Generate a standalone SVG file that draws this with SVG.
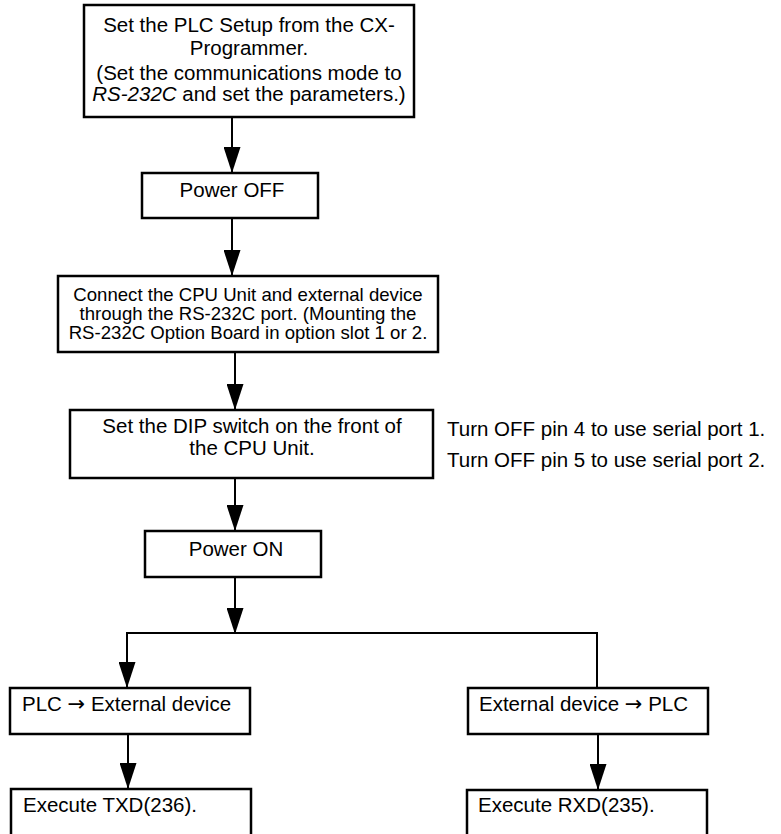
<svg xmlns="http://www.w3.org/2000/svg" width="781" height="834" viewBox="0 0 781 834">
<defs>
<style>
.box{fill:#fff;stroke:#000;stroke-width:2.5}
.t{font-family:"Liberation Sans",Arial,sans-serif;font-size:20.5px;fill:#000}
.s{font-family:"Liberation Sans",Arial,sans-serif;font-size:18.6px;fill:#000}
.c{text-anchor:middle}
.ar{font-family:"DejaVu Sans",sans-serif;font-size:21px}
.ln{stroke:#000;stroke-width:2;fill:none}
</style>
<marker id="ah" viewBox="0 0 26 17" refX="26" refY="8.5" markerWidth="26" markerHeight="17" markerUnits="userSpaceOnUse" orient="auto">
<path d="M0,0 L26,8.5 L0,17 Z" fill="#000"/>
</marker>
</defs>
<rect width="781" height="834" fill="#fff"/>
<g id="connectors">
<line class="ln" x1="232" y1="117" x2="232" y2="173" marker-end="url(#ah)"/>
<line class="ln" x1="232" y1="218" x2="232" y2="276" marker-end="url(#ah)"/>
<line class="ln" x1="235" y1="352" x2="235" y2="410" marker-end="url(#ah)"/>
<line class="ln" x1="235" y1="478" x2="235" y2="531" marker-end="url(#ah)"/>
<line class="ln" x1="235" y1="577" x2="235" y2="634" marker-end="url(#ah)"/>
<polyline class="ln" points="127,688 127,633 597,633 597,688"/>
<line class="ln" x1="127" y1="633" x2="127" y2="688" marker-end="url(#ah)"/>
<line class="ln" x1="128" y1="734" x2="128" y2="789" marker-end="url(#ah)"/>
<line class="ln" x1="598" y1="734" x2="598" y2="790" marker-end="url(#ah)"/>
</g>
<g id="n1">
<rect class="box" x="84" y="5" width="330" height="112"/>
<text class="t c" x="249" y="32">Set the PLC Setup from the CX-</text>
<text class="t c" x="249" y="55">Programmer.</text>
<text class="t c" x="249" y="80">(Set the communications mode to</text>
<text class="t c" x="249" y="101"><tspan font-style="italic">RS-232C</tspan> and set the parameters.)</text>
</g>
<g id="n2">
<rect class="box" x="142" y="173" width="176" height="45"/>
<text class="t c" x="232" y="197">Power OFF</text>
</g>
<g id="n3">
<rect class="box" x="58" y="276" width="380" height="76"/>
<text class="s c" x="248" y="301">Connect the CPU Unit and external device</text>
<text class="s c" x="248" y="320">through the RS-232C port. (Mounting the</text>
<text class="s c" x="248" y="339">RS-232C Option Board in option slot 1 or 2.</text>
</g>
<g id="n4">
<rect class="box" x="70" y="410" width="363" height="68"/>
<text class="t c" x="252" y="433">Set the DIP switch on the front of</text>
<text class="t c" x="252" y="455">the CPU Unit.</text>
</g>
<g id="note">
<text class="t" x="447" y="436">Turn OFF pin 4 to use serial port 1.</text>
<text class="t" x="447" y="467">Turn OFF pin 5 to use serial port 2.</text>
</g>
<g id="n5">
<rect class="box" x="145" y="531" width="176" height="46"/>
<text class="t c" x="236" y="556">Power ON</text>
</g>
<g id="n6">
<rect class="box" x="10" y="688" width="240" height="46"/>
<text class="t" x="22" y="711">PLC <tspan class="ar">→</tspan> External device</text>
</g>
<g id="n7">
<rect class="box" x="11" y="789" width="240" height="70"/>
<text class="t" x="23" y="812">Execute TXD(236).</text>
</g>
<g id="n8">
<rect class="box" x="468" y="688" width="240" height="46"/>
<text class="t" x="479" y="711">External device <tspan class="ar">→</tspan> PLC</text>
</g>
<g id="n9">
<rect class="box" x="467" y="790" width="240" height="70"/>
<text class="t" x="478" y="812">Execute RXD(235).</text>
</g>
</svg>
